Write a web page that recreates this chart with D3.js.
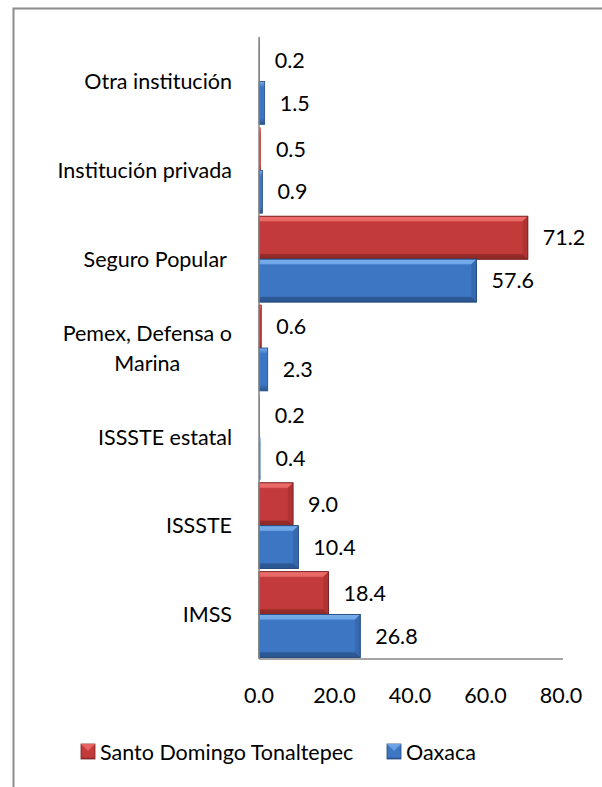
<!DOCTYPE html>
<html>
<head>
<meta charset="utf-8">
<script src="https://cdn.jsdelivr.net/npm/d3@7"></script>
<style>
  html, body { margin: 0; padding: 0; background: #fff; }
  svg { display: block; }
  text { font-family: Lato, "Open Sans", sans-serif; fill: #000; white-space: pre; }
</style>
</head>
<body>
<div id="chart"></div>
<script>
// categories from top to bottom, as drawn
const categories = [
  'Otra institución',
  'Institución privada',
  'Seguro Popular',
  'Pemex, Defensa o Marina',
  'ISSSTE estatal',
  'ISSSTE',
  'IMSS'
];
const categoryLines = [
  ['Otra institución'],
  ['Institución privada'],
  ['Seguro Popular '],
  ['Pemex, Defensa o', 'Marina'],
  ['ISSSTE estatal'],
  ['ISSSTE'],
  ['IMSS']
];
const seriesNames = ['Santo Domingo Tonaltepec', 'Oaxaca'];
const santoDomingo = [0.2, 0.5, 71.2, 0.6, 0.2, 9.0, 18.4];
const oaxaca = [1.5, 0.9, 57.6, 2.3, 0.4, 10.4, 26.8];
const xTicks = [0, 20, 40, 60, 80];

const W = 602, H = 787;
const fontSize = 21.5;

// colour sets for the bevelled bars
const palette = {
  'Santo Domingo Tonaltepec': { main: '#c23b3a', light: '#ec6d6b', dark: '#8f2927', edge: '#7a2322' },
  'Oaxaca': { main: '#3d76c2', light: '#76adec', dark: '#2a5590', edge: '#26487a' }
};

const svg = d3.select('#chart').append('svg')
  .attr('width', W)
  .attr('height', H);

// chart frame (runs off the right and bottom of the picture)
svg.append('rect')
  .attr('x', 13.5).attr('y', 8.5)
  .attr('width', 640).attr('height', 820)
  .attr('fill', 'none')
  .attr('stroke', '#8c8c8c')
  .attr('stroke-width', 2);

const x = d3.scaleLinear().domain([0, 80]).range([259, 561]);
const y = d3.scaleBand().domain(categories).range([37, 659])
  .paddingInner(0.035).paddingOuter(0.0175);
const ySub = d3.scaleBand().domain(seriesNames).range([0, y.bandwidth()]);

const rows = categories.map((c, i) => ({
  category: c,
  lines: categoryLines[i],
  values: [
    { series: seriesNames[0], value: santoDomingo[i] },
    { series: seriesNames[1], value: oaxaca[i] }
  ]
}));

// gradients
const defs = svg.append('defs');
seriesNames.forEach((s, i) => {
  const p = palette[s];
  const g = defs.append('linearGradient')
    .attr('id', 'grad' + i)
    .attr('x1', 0).attr('y1', 0).attr('x2', 0).attr('y2', 1);
  g.append('stop').attr('offset', '0%').attr('stop-color', p.light);
  g.append('stop').attr('offset', '14%').attr('stop-color', p.main);
  g.append('stop').attr('offset', '85%').attr('stop-color', p.main);
  g.append('stop').attr('offset', '100%').attr('stop-color', p.dark);
});

const bevel = 5;
const plot = svg.append('g');

const groups = plot.selectAll('.row')
  .data(rows)
  .join('g')
  .attr('class', 'row')
  .attr('transform', d => `translate(0,${y(d.category)})`);

const bars = groups.selectAll('.bar')
  .data(d => d.values)
  .join('g')
  .attr('class', 'bar');

bars.each(function(d) {
  const g = d3.select(this);
  const p = palette[d.series];
  const idx = seriesNames.indexOf(d.series);
  const x0 = x(0), x1 = x(d.value);
  const y0 = ySub(d.series), h = ySub.bandwidth();
  const w = x1 - x0;
  g.append('rect')
    .attr('x', x0).attr('y', y0)
    .attr('width', Math.max(w, 0.8)).attr('height', h)
    .attr('fill', `url(#grad${idx})`)
    .attr('stroke', w > 2 ? p.edge : 'none')
    .attr('stroke-width', 0.8);
  if (w > bevel * 2.5) {
    // top highlight bevel
    g.append('polygon')
      .attr('points', [[x0, y0], [x1, y0], [x1 - bevel, y0 + bevel], [x0, y0 + bevel]].join(' '))
      .attr('fill', p.light).attr('opacity', 0.85);
    // right end bevel
    g.append('polygon')
      .attr('points', [[x1, y0], [x1, y0 + h], [x1 - bevel, y0 + h - bevel], [x1 - bevel, y0 + bevel]].join(' '))
      .attr('fill', p.main).attr('opacity', 0.9);
    g.append('polygon')
      .attr('points', [[x1, y0], [x1, y0 + h], [x1 - bevel, y0 + h - bevel], [x1 - bevel, y0 + bevel]].join(' '))
      .attr('fill', p.dark).attr('opacity', 0.35);
    // bottom shade bevel
    g.append('polygon')
      .attr('points', [[x0, y0 + h], [x1, y0 + h], [x1 - bevel, y0 + h - bevel], [x0, y0 + h - bevel]].join(' '))
      .attr('fill', p.dark).attr('opacity', 0.8);
    g.append('rect')
      .attr('x', x0).attr('y', y0)
      .attr('width', w).attr('height', h)
      .attr('fill', 'none')
      .attr('stroke', p.edge)
      .attr('stroke-width', 0.8);
  }
  // value label
  g.append('text')
    .attr('x', x1 + 15)
    .attr('y', y0 + h / 2)
    .attr('dy', '0.36em')
    .attr('font-size', fontSize)
    .text(d.value.toFixed(1));
});

// axes lines
plot.append('line')
  .attr('x1', x(0)).attr('x2', x(0))
  .attr('y1', 37).attr('y2', 659)
  .attr('stroke', '#868686').attr('stroke-width', 1.5);
plot.append('line')
  .attr('x1', x(0)).attr('x2', 563)
  .attr('y1', 659).attr('y2', 659)
  .attr('stroke', '#868686').attr('stroke-width', 1.5);

// x tick labels
plot.selectAll('.xtick')
  .data(xTicks)
  .join('text')
  .attr('class', 'xtick')
  .attr('x', d => x(d))
  .attr('y', 695)
  .attr('dy', '0.36em')
  .attr('text-anchor', 'middle')
  .attr('font-size', fontSize)
  .text(d => d.toFixed(1));

// category labels, right aligned block, multi-line centred in block
const labelRight = 232;
groups.each(function(d) {
  const g = d3.select(this);
  const lineH = 30;
  const cy = y.bandwidth() / 2;
  const t = g.append('text')
    .attr('font-size', fontSize)
    .attr('text-anchor', 'middle');
  const spans = d.lines.map((ln, i) => t.append('tspan')
    .attr('y', cy + (i - (d.lines.length - 1) / 2) * lineH)
    .attr('dy', '0.36em')
    .text(ln));
  const maxW = d3.max(spans, s => s.node().getComputedTextLength());
  spans.forEach(s => s.attr('x', labelRight - maxW / 2));
});

// legend
const legend = svg.append('g').attr('transform', 'translate(0,752)');
const legendX = [81, 387];
seriesNames.forEach((s, i) => {
  const p = palette[s];
  const lg = legend.append('g').attr('transform', `translate(${legendX[i]},0)`);
  lg.append('rect')
    .attr('x', 0).attr('y', -8)
    .attr('width', 14).attr('height', 15)
    .attr('fill', `url(#grad${i})`)
    .attr('stroke', p.edge).attr('stroke-width', 0.8);
  lg.append('polygon')
    .attr('points', '0,-8 14,-8 7,-1')
    .attr('fill', p.light).attr('opacity', 0.8);
  lg.append('text')
    .attr('x', 19)
    .attr('y', 0)
    .attr('dy', '0.36em')
    .attr('font-size', fontSize)
    .text(s);
});
</script>
</body>
</html>
